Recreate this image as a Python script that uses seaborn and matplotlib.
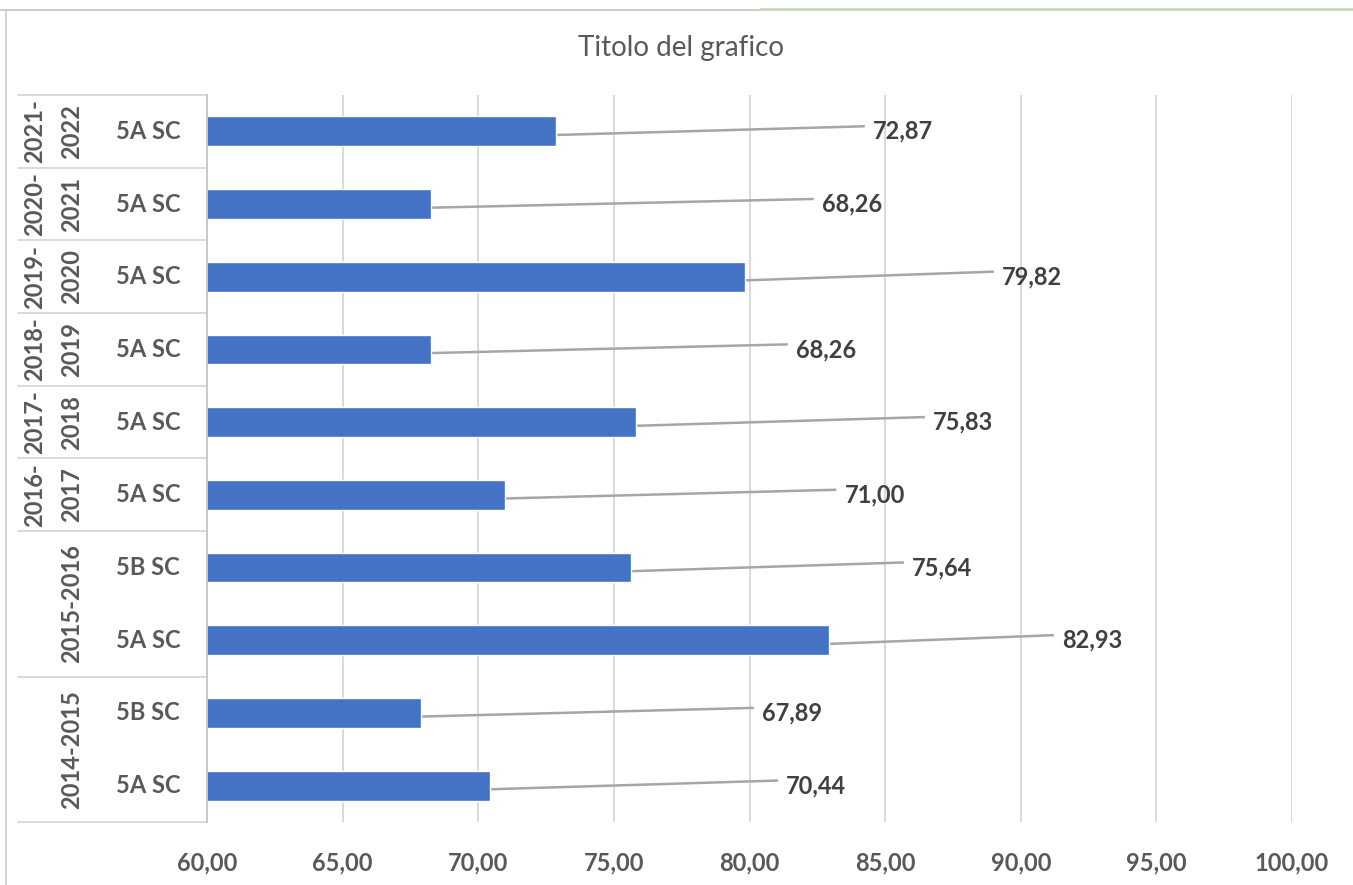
import matplotlib
matplotlib.use("Agg")
import matplotlib.pyplot as plt
from matplotlib.lines import Line2D
import pandas as pd
import seaborn as sns

# Data
years = ["2021-2022", "2020-2021", "2019-2020", "2018-2019", "2017-2018",
         "2016-2017", "2015-2016", "2015-2016", "2014-2015", "2014-2015"]
classes = ["5A SC", "5A SC", "5A SC", "5A SC", "5A SC",
           "5A SC", "5B SC", "5A SC", "5B SC", "5A SC"]
values = [72.87, 68.26, 79.82, 68.26, 75.83, 71.00, 75.64, 82.93, 67.89, 70.44]
# where the data labels were dragged to (x value of the label's left edge)
label_pos = [84.55, 82.67, 89.31, 81.71, 86.77, 83.5, 85.99, 91.52, 80.46, 81.35]
xticks = [60, 65, 70, 75, 80, 85, 90, 95, 100]

df = pd.DataFrame({"row": [f"{y} {c}" for y, c in zip(years, classes)],
                   "year": years, "cls": classes, "value": values})

sns.set_theme(style="white")
plt.rcParams["font.family"] = ["Lato", "DejaVu Sans"]

BLUE = "#4472C4"
TXT = "#595959"
GRID = "#d9d9d9"

W, H = 1353, 885
AX_L, AX_R, AX_T, AX_B = 207, 1292, 95, 822

fig = plt.figure(figsize=(W / 100, H / 100), dpi=100)
ax = fig.add_axes([AX_L / W, 1 - AX_B / H, (AX_R - AX_L) / W, (AX_B - AX_T) / H])

sns.barplot(data=df, y="row", x="value", orient="h", color=BLUE,
            width=0.41, saturation=1, ax=ax, zorder=2)

ax.set_xlim(60, 100)
ax.set_ylim(9.5, -0.5)
ax.set_xticks(xticks)
ax.set_xticklabels([f"{t:.2f}".replace(".", ",") for t in xticks],
                   fontsize=17, fontweight="bold", color=TXT)
ax.tick_params(axis="x", length=0, pad=21)
ax.set_yticks([])
ax.set_xlabel("")
ax.set_ylabel("")
for t in xticks[1:]:
    ax.axvline(t, color=GRID, lw=1.4, zorder=0)
for s in ["top", "right", "bottom"]:
    ax.spines[s].set_visible(False)
ax.spines["left"].set_color("#c8c8c8")
ax.spines["left"].set_linewidth(1.4)

# data labels with leader lines
for i, (v, lx) in enumerate(zip(values, label_pos)):
    ax.plot([v, lx - 0.3], [i + 0.05, i - 0.07], color="#a6a6a6", lw=1.8,
            zorder=1, solid_capstyle="butt")
    ax.text(lx, i, f"{v:.2f}".replace(".", ","), ha="left", va="center",
            fontsize=17, fontweight="bold", color="#404040")

# multi-level category table on the left
trans = ax.get_yaxis_transform()
px = lambda p: (p - AX_L) / (AX_R - AX_L)
for i, c in enumerate(classes):
    ax.text(px(148), i, c, transform=trans, ha="center", va="center",
            fontsize=17, fontweight="bold", color=TXT, clip_on=False)

groups = []
for i, y in enumerate(years):
    if groups and groups[-1][0] == y:
        groups[-1][2] = i
    else:
        groups.append([y, i, i])
bounds = [-0.5]
for y, a, b in groups:
    mid = (a + b) / 2
    if a == b:
        first, second = y.split("-")
        ax.text(px(35), mid, first + "-", transform=trans, ha="center",
                va="center", rotation=90, fontsize=17, fontweight="bold",
                color=TXT, clip_on=False)
        ax.text(px(72), mid, second, transform=trans, ha="center",
                va="center", rotation=90, fontsize=17, fontweight="bold",
                color=TXT, clip_on=False)
    else:
        ax.text(px(72), mid, y, transform=trans, ha="center", va="center",
                rotation=90, fontsize=17, fontweight="bold", color=TXT,
                clip_on=False)
    bounds.append(b + 0.5)
for b in bounds:
    ax.plot([px(18), 0], [b, b], transform=trans, color=GRID, lw=1.4,
            clip_on=False)

fig.text(681 / W, 1 - 48 / H, "Titolo del grafico", ha="center",
         va="center", fontsize=20, color=TXT)

# chart frame
fig.add_artist(Line2D([6 / W, 6 / W], [0, 1 - 10 / H], color="#d0d0d0", lw=1.3))
fig.add_artist(Line2D([0, 760 / W], [1 - 10 / H, 1 - 10 / H], color="#c8c8c8", lw=1.3))
fig.add_artist(Line2D([760 / W, 1], [1 - 9 / H, 1 - 9 / H], color="#c6dbb4", lw=2))

fig.savefig("out.png", dpi=100, facecolor="white")
